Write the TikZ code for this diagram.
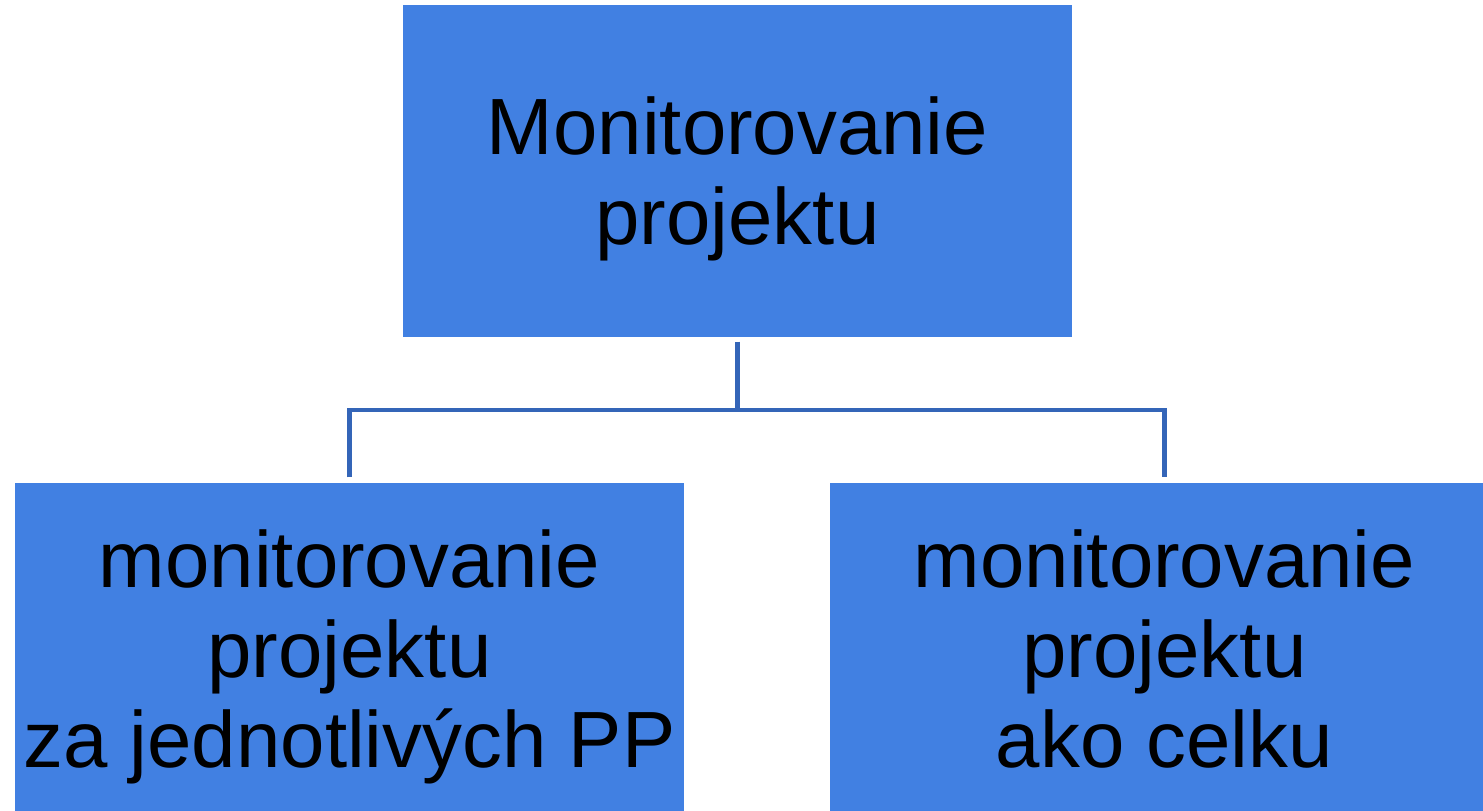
\documentclass[tikz,border=0pt]{standalone}
\usepackage{fontspec}
\setmainfont{Liberation Sans}

\definecolor{boxBlue}{HTML}{4180E2}
\definecolor{lineBlue}{HTML}{3465B8}

\tikzset{
    orgbox/.style={rectangle, fill=boxBlue, minimum width=6.69cm, minimum height=3.32cm,
        inner sep=0pt, text depth=0pt, align=center, font=\fontsize{22.7}{25.6}\selectfont},
    link/.style={lineBlue, line width=1.15pt}
}

\begin{document}
\begin{tikzpicture}
    \useasboundingbox (0,0) rectangle (14.83,8.10);
    \clip (0,0) rectangle (14.83,8.10);

    \node[orgbox] (top) at (7.375,6.39) {Monitorovanie\\projektu};
    \node[orgbox] (left) at (3.495,1.61) {monitorovanie\\projektu\\za jednotlivých PP};
    \node[orgbox] (right) at (11.645,1.61) {monitorovanie\\projektu\\ako celku};

    \coordinate (split) at (7.375,4.00);

    \draw[link] ([yshift=-0.04cm]top.south) -- (split);
    \draw[link] ([yshift=0.05cm]left.north) |- (split) -| ([yshift=0.05cm]right.north);
\end{tikzpicture}
\end{document}
